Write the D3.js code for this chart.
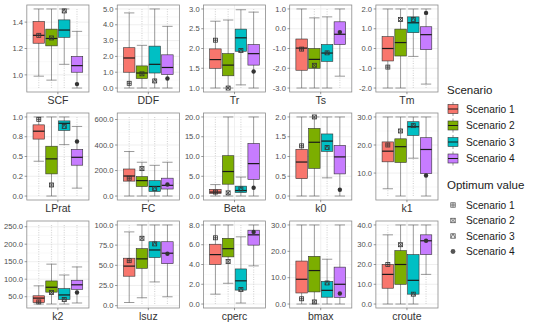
<!DOCTYPE html>
<html>
<head>
<meta charset="utf-8">
<script src="https://cdn.jsdelivr.net/npm/d3@7"></script>
<style>
  body { margin: 0; background: #fff; }
  text { font-family: "Liberation Sans", Arial, sans-serif; }
</style>
</head>
<body>
<svg id="chart" width="550" height="329"></svg>
<script>
const scenarios = ['Scenario 1', 'Scenario 2', 'Scenario 3', 'Scenario 4'];
const colors = ['#F8766D', '#7CAE00', '#00BFC4', '#C77CFF'];
const params = ['SCF', 'DDF', 'Tr', 'Ts', 'Tm', 'LPrat', 'FC', 'Beta', 'k0', 'k1', 'k2', 'lsuz', 'cperc', 'bmax', 'croute'];

// box statistics, one row per parameter, one value per scenario
const whiskLo = [
  [0.99, 0.96, 1.08, 0.90], [0, 0, 0, 0], [1.0, 1.0, 1.08, 1.0], [-3, -3, -3, -2.4], [-2, -2, -0.4, -1.8],
  [0.44, 0, 0.65, 0.10], [0, 0, 0, 0], [0, 0, 0, 0], [0, 0, 0.46, 0], [4.4, 1.8, 15.3, 1.8],
  [29, 29, 29, 32], [3.9, 9.8, 29.4, 11], [1.0, 2.1, 0.1, 3.86], [0, 0, 0, 0], [0, 0, 0, 15]
];
const q1 = [
  [1.24, 1.22, 1.285, 1.02], [1.0, 0.6, 0.95, 0.85], [1.5, 1.31, 1.93, 1.58], [-2.1, -2.0, -1.65, -0.8], [-0.63, -0.38, 0.8, -0.06],
  [0.72, 0.28, 0.83, 0.39], [117, 75, 36, 55], [0.65, 3.0, 0.9, 4.2], [0.44, 0.70, 1.13, 0.56], [14.0, 13.8, 23.4, 9.8],
  [33, 63, 42, 71], [36.5, 46.3, 59.6, 52], [4.0, 4.77, 1.41, 5.96], [4.2, 4.6, 2.6, 2.5], [8, 10, 5, 25]
];
const med = [
  [1.30, 1.276, 1.34, 1.07], [1.9, 0.95, 1.5, 1.3], [1.72, 1.58, 2.27, 1.87], [-0.98, -1.55, -1.23, -0.28], [0.0, 0.3, 1.3, 0.7],
  [0.82, 0.47, 0.92, 0.49], [157, 121, 75, 84], [1.0, 6.2, 1.4, 8.2], [0.86, 1.36, 1.39, 0.99], [17.8, 19.4, 26.5, 18.4],
  [46, 77, 55, 84], [49, 58, 69, 65], [5.0, 5.6, 2.35, 7.0], [9.4, 12.7, 5.2, 7.5], [15, 20, 12, 32]
];
const q3 = [
  [1.405, 1.347, 1.417, 1.14], [2.55, 1.4, 2.65, 2.1], [1.99, 1.87, 2.49, 2.1], [-0.52, -1.0, -0.8, 0.35], [0.6, 0.98, 1.6, 1.1],
  [0.90, 0.63, 0.95, 0.59], [212, 152, 121, 140], [1.7, 10.2, 2.5, 13.3], [1.18, 1.71, 1.57, 1.28], [21.1, 22.2, 28.3, 22.6],
  [52.6, 95, 73, 97], [58.8, 70.6, 79.2, 79.2], [6.05, 6.65, 3.55, 7.47], [16.3, 18.1, 8.6, 14], [20, 27, 25, 35]
];
const whiskHi = [
  [1.5, 1.5, 1.5, 1.33], [4.75, 2.7, 5.0, 3.9], [2.69, 2.72, 2.98, 2.92], [1.0, 0.55, 0.6, 1.0], [2, 2, 2, 2],
  [1.0, 1.0, 1.0, 0.88], [349, 265, 241, 265], [2.9, 20, 4.8, 20], [2, 2, 2, 2], [30, 30, 30, 30],
  [81, 143, 112, 135], [91.4, 100, 100, 100], [8, 8, 6.8, 8], [30, 30, 17, 30], [35, 40, 40, 40]
];
// extremes of the outlying points (null = none)
const outLo = [
  [0.9, 0.9, 0.9, null], [null, null, null, null], [null, null, 1.0, null], [null, null, null, -3], [null, null, -2, -2],
  [0, null, 0, 0], [null, null, null, null], [null, null, null, null], [null, null, 0, null], [1.8, null, 1.8, null],
  [null, null, null, null], [null, 2, 2, 2], [0, 0, null, 0], [null, null, null, null], [null, null, null, 0]
];
const outHi = [
  [null, null, null, 1.5], [5, 5, null, 5], [3, 3, null, 3], [null, 1, 1, null], [null, null, null, null],
  [null, null, null, 1.0], [620, 620, 620, 620], [20, null, 20, null], [null, null, null, null], [null, null, null, null],
  [255, 255, 255, 255], [100, null, null, null], [null, null, 8, null], [null, null, 30, null], [40, null, null, null]
];
// optimum value per scenario
const optimum = [
  [1.30, 1.28, 1.485, 0.93], [0.3, 0.9, 0.45, 0.6], [2.21, 1.0, 1.95, 1.42], [-1.03, -1.85, -1.22, -0.17], [-0.94, 1.47, 1.47, 1.8],
  [0.97, 0.14, 0.88, 0.69], [140, 215, 60, 91], [1.0, 0.8, 1.8, 2.1], [1.27, 2.0, 1.23, 0.16], [20.0, 25, 26.9, 9.1],
  [35, 62, 42, 62], [55.7, 83.5, 76.5, 64.3], [6.7, 4.3, 1.47, 7.3], [2.0, 0.8, 8, 4], [20, 30, 5, 32]
];

const tickValues = [
  [1.0, 1.2, 1.4], [0, 1, 2, 3, 4, 5], [1, 1.5, 2, 2.5, 3], [-3, -2, -1, 0, 1], [-2, -1, 0, 1, 2],
  [0, 0.25, 0.5, 0.75, 1], [0, 200, 400, 600], [0, 5, 10, 15, 20], [0, 0.5, 1, 1.5, 2], [10, 20, 30],
  [50, 100, 150, 200, 250], [0, 25, 50, 75, 100], [0, 2, 4, 6, 8], [0, 10, 20, 30], [0, 10, 20, 30, 40]
];
const tickLabels = [
  ['1.0', '1.2', '1.4'], ['0.0', '1.0', '2.0', '3.0', '4.0', '5.0'], ['1.0', '1.5', '2.0', '2.5', '3.0'],
  ['-3.0', '-2.0', '-1.0', '0.0', '1.0'], ['-2.0', '-1.0', '0.0', '1.0', '2.0'],
  ['0.0', '0.2', '0.5', '0.8', '1.0'], ['0.0', '200.0', '400.0', '600.0'], ['0.0', '5.0', '10.0', '15.0', '20.0'],
  ['0.0', '0.5', '1.0', '1.5', '2.0'], ['10.0', '20.0', '30.0'],
  ['50.0', '100.0', '150.0', '200.0', '250.0'], ['0.0', '25.0', '50.0', '75.0', '100.0'], ['0.0', '2.0', '4.0', '6.0', '8.0'],
  ['0.0', '10.0', '20.0', '30.0'], ['0.0', '10.0', '20.0', '30.0', '40.0']
];

const svg = d3.select('#chart');
const tickFont = 7.6;
const rowTop = [5, 113, 221];
const panelH = 87;
const plotLeft = 4, plotRight = 438, gap = 5.5, tickLen = 2.2, labPad = 1.6;

// measure the y labels so the columns line up like facet_wrap
const measure = svg.append('g');
const labWidth = tickLabels.map(labs => d3.max(labs, t => {
  const n = measure.append('text').attr('font-size', tickFont).text(t);
  return n.node().getComputedTextLength();
}));
measure.remove();
const colAxis = d3.range(5).map(c => d3.max([0, 1, 2], r => labWidth[r * 5 + c]) + tickLen + labPad);
const panelW = (plotRight - plotLeft - d3.sum(colAxis) - 4 * gap) / 5;
const colLeft = [];
let cur = plotLeft;
colAxis.forEach((a, c) => { colLeft.push(cur + a); cur += a + panelW + gap; });

// optimum markers: ggplot shapes 12, 7, 14, 16
const drawShape = (g, i, cx, cy, s, col) => {
  const h = s / 2;
  if (i === 3) {
    g.append('circle').attr('cx', cx).attr('cy', cy).attr('r', h + 0.2).attr('fill', col);
    return;
  }
  g.append('rect').attr('x', cx - h).attr('y', cy - h).attr('width', s).attr('height', s)
    .attr('fill', 'none').attr('stroke', col).attr('stroke-width', 0.8);
  const p = d3.path();
  if (i === 0) { p.moveTo(cx - h, cy); p.lineTo(cx + h, cy); p.moveTo(cx, cy - h); p.lineTo(cx, cy + h); }
  if (i === 1) { p.moveTo(cx - h, cy - h); p.lineTo(cx + h, cy + h); p.moveTo(cx + h, cy - h); p.lineTo(cx - h, cy + h); }
  if (i === 2) { p.moveTo(cx - h, cy + h); p.lineTo(cx, cy - h); p.lineTo(cx + h, cy + h); }
  g.append('path').attr('d', p.toString()).attr('fill', 'none').attr('stroke', col).attr('stroke-width', 0.8);
};

params.forEach((name, pi) => {
  const row = Math.floor(pi / 5), col = pi % 5;
  const left = colLeft[col], right = left + panelW;
  const top = rowTop[row], bottom = top + panelH;
  const g = svg.append('g');

  const all = [...whiskLo[pi], ...whiskHi[pi], ...optimum[pi], ...outLo[pi], ...outHi[pi]].filter(v => v !== null);
  const lo = d3.min(all), hi = d3.max(all), pad = (hi - lo) * 0.05;
  const y = d3.scaleLinear().domain([lo - pad, hi + pad]).range([bottom, top]);
  const x = d3.scaleLinear().domain([0.4, 1.6]).range([left, right]);
  const xb = d3.scaleBand().domain(scenarios).range([x(0.52), x(1.48)]).paddingInner(0.1);

  // grid
  const tv = tickValues[pi];
  const step = tv[1] - tv[0];
  const minor = d3.range(tv[0] - step / 2, tv[tv.length - 1] + step, step).filter(v => v > y.domain()[0] && v < y.domain()[1]);
  g.selectAll('line.minor').data(minor).enter().append('line')
    .attr('x1', left).attr('x2', right).attr('y1', d => y(d)).attr('y2', d => y(d))
    .attr('stroke', '#f2f2f2').attr('stroke-width', 0.5);
  g.selectAll('line.major').data(tv).enter().append('line')
    .attr('x1', left).attr('x2', right).attr('y1', d => y(d)).attr('y2', d => y(d))
    .attr('stroke', '#ebebeb').attr('stroke-width', 0.8);
  g.append('line').attr('x1', x(1)).attr('x2', x(1)).attr('y1', top).attr('y2', bottom)
    .attr('stroke', '#ebebeb').attr('stroke-width', 0.8);

  // outlying points
  scenarios.forEach((s, si) => {
    const cx = xb(s) + xb.bandwidth() / 2;
    [[outLo[pi][si], whiskLo[pi][si]], [outHi[pi][si], whiskHi[pi][si]]].forEach(([o, w]) => {
      if (o === null) return;
      g.append('line').attr('x1', cx).attr('x2', cx).attr('y1', y(o)).attr('y2', y(w))
        .attr('stroke', '#d6d6d6').attr('stroke-width', 1.2).attr('stroke-dasharray', '1,1.4');
    });
  });

  // boxes
  scenarios.forEach((s, si) => {
    const bx = xb(s), bw = xb.bandwidth(), cx = bx + bw / 2;
    const cap = bw * 0.9;
    g.append('line').attr('x1', cx).attr('x2', cx).attr('y1', y(whiskLo[pi][si])).attr('y2', y(whiskHi[pi][si]))
      .attr('stroke', '#555').attr('stroke-width', 0.6);
    [whiskLo[pi][si], whiskHi[pi][si]].forEach(v => {
      g.append('line').attr('x1', cx - cap / 2).attr('x2', cx + cap / 2).attr('y1', y(v)).attr('y2', y(v))
        .attr('stroke', '#555').attr('stroke-width', 0.6);
    });
    g.append('rect').attr('x', bx).attr('width', bw).attr('y', y(q3[pi][si])).attr('height', y(q1[pi][si]) - y(q3[pi][si]))
      .attr('fill', colors[si]).attr('stroke', '#333').attr('stroke-width', 0.6);
    g.append('line').attr('x1', bx).attr('x2', bx + bw).attr('y1', y(med[pi][si])).attr('y2', y(med[pi][si]))
      .attr('stroke', '#1a1a1a').attr('stroke-width', 1.2);
  });

  // optimum values
  scenarios.forEach((s, si) => {
    const cx = xb(s) + xb.bandwidth() / 2;
    drawShape(g, si, cx, y(optimum[pi][si]), 4, '#333');
  });

  // frame, ticks, labels
  g.append('rect').attr('x', left).attr('y', top).attr('width', panelW).attr('height', panelH)
    .attr('fill', 'none').attr('stroke', '#8c8c8c').attr('stroke-width', 0.8);
  g.selectAll('line.ytick').data(tv).enter().append('line')
    .attr('x1', left - tickLen).attr('x2', left).attr('y1', d => y(d)).attr('y2', d => y(d))
    .attr('stroke', '#555').attr('stroke-width', 0.6);
  g.selectAll('text.ylab').data(tickLabels[pi]).enter().append('text')
    .attr('x', left - tickLen - labPad).attr('y', (d, i) => y(tv[i]) + tickFont * 0.35)
    .attr('text-anchor', 'end').attr('font-size', tickFont).attr('fill', '#4d4d4d').text(d => d);
  g.append('line').attr('x1', x(1)).attr('x2', x(1)).attr('y1', bottom).attr('y2', bottom + tickLen)
    .attr('stroke', '#555').attr('stroke-width', 0.6);
  g.append('text').attr('x', x(1)).attr('y', bottom + 12).attr('text-anchor', 'middle')
    .attr('font-size', 10.5).attr('fill', '#333').text(name);
});

// legend
const lg = svg.append('g').attr('transform', 'translate(447,0)');
lg.append('text').attr('x', 0).attr('y', 94).attr('font-size', 11.5).attr('fill', '#1a1a1a').text('Scenario');
scenarios.forEach((s, i) => {
  const yy = 109 + i * 16.5;
  lg.append('line').attr('x1', 6).attr('x2', 6).attr('y1', yy - 7).attr('y2', yy + 7).attr('stroke', '#555').attr('stroke-width', 0.6);
  lg.append('rect').attr('x', 1).attr('y', yy - 4.5).attr('width', 10).attr('height', 9)
    .attr('fill', colors[i]).attr('stroke', '#333').attr('stroke-width', 0.6);
  lg.append('line').attr('x1', 1).attr('x2', 11).attr('y1', yy).attr('y2', yy).attr('stroke', '#1a1a1a').attr('stroke-width', 1);
  lg.append('text').attr('x', 19).attr('y', yy + 3.6).attr('font-size', 10.2).attr('fill', '#1a1a1a').text(s);
});
lg.append('text').attr('x', 0).attr('y', 189).attr('font-size', 11.5).attr('fill', '#1a1a1a').text('Optimum value');
scenarios.forEach((s, i) => {
  const yy = 205 + i * 15.5;
  drawShape(lg, i, 6, yy, 4.4, '#555');
  lg.append('text').attr('x', 19).attr('y', yy + 3.6).attr('font-size', 10.2).attr('fill', '#1a1a1a').text(s);
});
</script>
</body>
</html>
